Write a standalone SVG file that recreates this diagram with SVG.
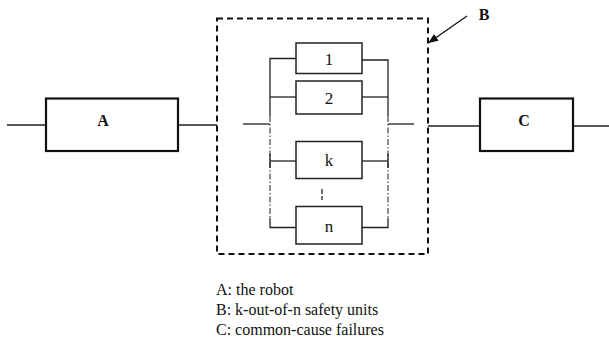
<svg xmlns="http://www.w3.org/2000/svg" width="609" height="353" viewBox="0 0 609 353">
<style>
.ln{stroke:#222;stroke-width:1.3;fill:none}
.thick{stroke:#111;stroke-width:2.2;fill:#fff}
.unit{stroke:#222;stroke-width:1.5;fill:#fff}
.dd{stroke:#333;stroke-width:1.1;fill:none;stroke-dasharray:6,2,1.5,2}
.t{font-family:"Liberation Serif","Times New Roman",serif;font-size:16px;fill:#111}
.u{font-size:17px}
.b{font-weight:bold;text-anchor:middle}
.c{text-anchor:middle}
</style>
<defs>
<marker id="arr" markerWidth="10" markerHeight="8" refX="9" refY="4" orient="auto" markerUnits="userSpaceOnUse">
<path d="M0,0 L10,4 L0,8 Z" fill="#111"/>
</marker>
</defs>
<g id="connectors">
<line class="ln" x1="7" y1="125" x2="46" y2="125"/>
<line class="ln" x1="178" y1="125" x2="217" y2="125"/>
<line class="ln" x1="428" y1="126" x2="480" y2="126"/>
<line class="ln" x1="573" y1="126" x2="609" y2="126"/>
<line class="ln" x1="243" y1="124" x2="270" y2="124"/>
<line class="ln" x1="388" y1="124" x2="414" y2="124"/>
<polyline class="ln" points="296,58.5 270,58.5 270,116"/>
<polyline class="ln" points="362,60 388,60 388,116"/>
<line class="ln" x1="270" y1="97" x2="296" y2="97"/>
<line class="ln" x1="362" y1="97" x2="388" y2="97"/>
<line class="ln" x1="270" y1="161" x2="296" y2="161"/>
<line class="ln" x1="362" y1="161" x2="388" y2="161"/>
<line class="dd" x1="270" y1="116" x2="270" y2="218"/>
<line class="dd" x1="388" y1="116" x2="388" y2="218"/>
<polyline class="ln" points="270,218 270,227.5 296,227.5"/>
<polyline class="ln" points="388,218 388,227.5 362,227.5"/>
<line class="ln" x1="270" y1="154" x2="270" y2="168"/>
<line class="ln" x1="388" y1="154" x2="388" y2="168"/>
<line stroke="#222" stroke-width="1.3" stroke-dasharray="5,2,4" x1="322" y1="189" x2="322" y2="201"/>
<line stroke="#111" stroke-width="1.3" x1="467" y1="16" x2="429" y2="42.5" marker-end="url(#arr)"/>
</g>
<g id="B">
<rect x="217" y="18.5" width="211" height="235.5" fill="none" stroke="#111" stroke-width="2" stroke-dasharray="6,4"/>
<text class="t b" x="484" y="20">B</text>
</g>
<g id="A">
<rect class="thick" x="46" y="98.5" width="132" height="52.5"/>
<text class="t b" x="103" y="126">A</text>
</g>
<g id="C">
<rect class="thick" x="480" y="98.5" width="93" height="52.5"/>
<text class="t b" x="524" y="126">C</text>
</g>
<g id="unit1">
<rect class="unit" x="296" y="43" width="66" height="30.5"/>
<text class="t u c" x="329" y="65">1</text>
</g>
<g id="unit2">
<rect class="unit" x="296" y="81" width="66" height="33"/>
<text class="t u c" x="329" y="103.5">2</text>
</g>
<g id="unitk">
<rect class="unit" x="296" y="141.5" width="66" height="37"/>
<text class="t u c" x="329" y="166">k</text>
</g>
<g id="unitn">
<rect class="unit" x="296" y="206.5" width="66" height="37.5"/>
<text class="t u c" x="329" y="232">n</text>
</g>
<g id="legend">
<text class="t" x="216" y="295">A: the robot</text>
<text class="t" x="216" y="315">B: k-out-of-n safety units</text>
<text class="t" x="216" y="335">C: common-cause failures</text>
</g>
</svg>
